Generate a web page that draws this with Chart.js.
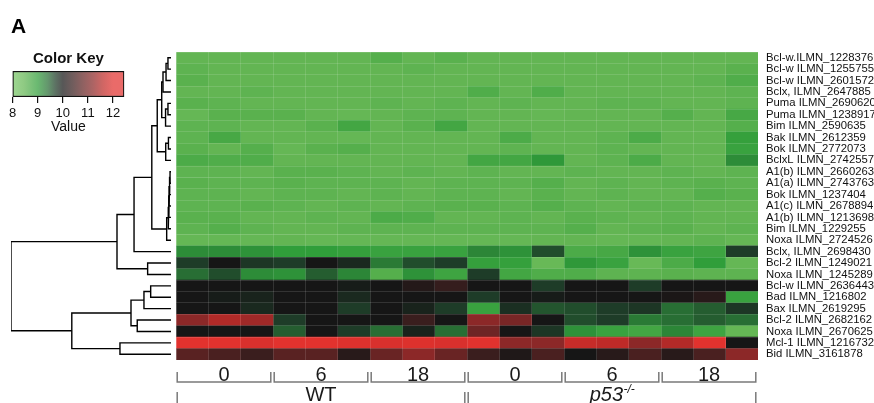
<!DOCTYPE html>
<html><head><meta charset="utf-8">
<script src="https://cdn.jsdelivr.net/npm/chart.js@4/dist/chart.umd.min.js"></script>
<style>
html,body{margin:0;padding:0;background:#fff;}
#wrap{position:relative;width:874px;height:403px;overflow:hidden;}
canvas{position:absolute;left:0;top:0;}
#panel{position:absolute;left:11px;top:15px;font:bold 21px/21px "Liberation Sans",Arial,sans-serif;color:#000;}
</style></head><body>
<div id="wrap">
<canvas id="heat" width="874" height="403"></canvas>
<canvas id="dendro" width="176" height="403"></canvas>
<canvas id="key" width="150" height="150"></canvas>
<div id="panel">A</div>
</div>
<script>
// ---------- DATA ----------
const rowLabels = [
 "Bcl-w.ILMN_1228376","Bcl-w ILMN_1255755","Bcl-w ILMN_2601572","Bclx, ILMN_2647885",
 "Puma ILMN_2690620","Puma ILMN_1238917","Bim ILMN_2590635","Bak ILMN_2612359",
 "Bok ILMN_2772073","BclxL ILMN_2742557","A1(b) ILMN_2660263","A1(a) ILMN_2743763",
 "Bok ILMN_1237404","A1(c) ILMN_2678894","A1(b) ILMN_1213698","Bim ILMN_1229255",
 "Noxa ILMN_2724526","Bclx, ILMN_2698430","Bcl-2 ILMN_1249021","Noxa ILMN_1245289",
 "Bcl-w ILMN_2636443","Bad ILMN_1216802","Bax ILMN_2619295","Bcl-2 ILMN_2682162",
 "Noxa ILMN_2670625","Mcl-1 ILMN_1216732","Bid ILMN_3161878"
];
const timeLabels = ["0","6","18"];
const repsPerGroup = 3;
const genotypes = ["WT","p53"];
const genotypeSup = ["","-/-"];
const genotypeItalic = [false,true];

// expression values, WT samples (0h x3, 6h x3, 18h x3)
const exprWT = [
 [8.45,8.45,8.45,8.45,8.45,8.45,8.6,8.45,8.55],
 [8.5,8.45,8.45,8.45,8.45,8.45,8.45,8.5,8.45],
 [8.55,8.45,8.45,8.45,8.45,8.45,8.45,8.45,8.45],
 [8.45,8.45,8.5,8.45,8.45,8.45,8.45,8.45,8.45],
 [8.55,8.5,8.45,8.45,8.45,8.45,8.5,8.45,8.5],
 [8.4,8.55,8.55,8.55,8.45,8.4,8.45,8.5,8.5],
 [8.5,8.5,8.45,8.45,8.55,8.8,8.45,8.55,8.8],
 [8.5,8.75,8.45,8.45,8.45,8.4,8.45,8.45,8.45],
 [8.55,8.45,8.6,8.4,8.55,8.6,8.45,8.45,8.45],
 [8.7,8.65,8.65,8.45,8.45,8.45,8.45,8.45,8.45],
 [8.5,8.5,8.45,8.55,8.55,8.5,8.45,8.5,8.45],
 [8.55,8.5,8.5,8.55,8.5,8.5,8.5,8.45,8.5],
 [8.5,8.5,8.45,8.5,8.5,8.45,8.5,8.45,8.5],
 [8.5,8.5,8.55,8.5,8.45,8.5,8.45,8.5,8.55],
 [8.55,8.55,8.45,8.45,8.5,8.45,8.7,8.65,8.45],
 [8.5,8.6,8.5,8.45,8.45,8.5,8.5,8.5,8.5],
 [8.4,8.4,8.4,8.45,8.4,8.4,8.4,8.4,8.4],
 [9.15,9.15,9.1,9.0,9.0,8.95,8.9,8.9,8.9],
 [9.7,10.0,9.75,9.7,10.0,9.85,9.3,9.6,9.7],
 [9.4,9.6,9.15,9.1,9.5,9.2,8.6,9.1,8.85],
 [10.0,10.0,10.0,10.0,10.0,9.95,10.0,10.15,10.35],
 [10.0,9.95,9.9,10.0,10.0,9.85,10.0,10.0,10.0],
 [10.0,10.0,9.85,10.0,10.0,9.7,10.0,9.9,9.7],
 [11.2,11.5,11.35,9.7,10.0,10.0,10.0,10.4,10.0],
 [10.0,10.0,10.0,9.5,10.0,9.7,9.4,9.9,9.4],
 [12.0,12.0,11.9,12.0,12.0,11.95,11.9,11.95,11.9],
 [10.7,10.55,10.4,10.7,10.7,10.2,10.85,11.2,10.85]
];
// expression values, p53-/- samples
const exprP53 = [
 [8.45,8.45,8.45,8.45,8.45,8.45,8.45,8.45,8.45],
 [8.45,8.45,8.45,8.45,8.45,8.45,8.45,8.45,8.55],
 [8.45,8.45,8.45,8.45,8.45,8.45,8.45,8.5,8.65],
 [8.65,8.45,8.65,8.45,8.45,8.45,8.45,8.45,8.5],
 [8.45,8.5,8.45,8.45,8.5,8.5,8.45,8.45,8.5],
 [8.45,8.45,8.4,8.45,8.45,8.45,8.6,8.45,8.75],
 [8.45,8.45,8.45,8.45,8.45,8.45,8.45,8.45,8.6],
 [8.45,8.7,8.45,8.45,8.5,8.7,8.45,8.45,8.95],
 [8.45,8.5,8.45,8.45,8.5,8.45,8.45,8.45,8.9],
 [8.8,8.8,9.05,8.45,8.5,8.7,8.45,8.45,9.15],
 [8.5,8.45,8.45,8.5,8.45,8.45,8.5,8.45,8.5],
 [8.5,8.5,8.6,8.45,8.5,8.45,8.5,8.55,8.5],
 [8.5,8.45,8.55,8.45,8.5,8.45,8.45,8.6,8.55],
 [8.55,8.5,8.6,8.5,8.45,8.5,8.5,8.45,8.45],
 [8.45,8.5,8.45,8.55,8.5,8.45,8.5,8.45,8.45],
 [8.5,8.5,8.5,8.6,8.45,8.5,8.55,8.45,8.5],
 [8.4,8.4,8.45,8.45,8.4,8.4,8.45,8.5,8.4],
 [9.2,9.1,9.6,8.7,8.75,9.1,8.9,8.85,9.7],
 [8.95,8.95,8.35,9.05,8.9,8.35,8.7,9.0,8.4],
 [9.7,8.8,8.65,8.65,8.5,8.5,8.55,8.5,8.5],
 [10.0,10.0,9.7,10.0,10.0,9.7,10.0,10.0,10.0],
 [9.7,10.0,9.95,10.0,10.0,10.0,10.05,10.2,8.9],
 [8.9,9.8,9.55,9.6,9.7,9.75,9.4,9.5,9.75],
 [11.2,11.0,10.0,9.6,9.7,9.3,9.4,9.5,9.4],
 [10.9,10.0,9.75,9.1,8.9,8.8,9.2,8.85,8.4],
 [12.0,11.2,11.2,11.7,11.6,11.2,11.5,12.0,10.0],
 [10.4,10.1,10.55,10.0,10.2,10.55,10.2,10.55,11.2]
];

// row dendrogram (hclust-style merges: negative = leaf row number, positive = earlier merge)
const mergePairs = [
 [-1,-2],[1,-3],[2,-4],[-5,-6],[4,-7],[3,5],[-8,-9],[7,-10],[6,8],
 [-11,-12],[10,-13],[11,-14],[12,-15],[13,-16],[14,-17],[9,15],[16,-18],
 [-19,-20],[17,18],[-21,-22],[20,-23],[-24,-25],[21,22],[-26,-27],[23,24],[19,25]
];
const mergeHeights = [
 0.19,0.31,0.5,0.19,0.34,0.58,0.16,0.33,0.86,
 0.06,0.09,0.12,0.14,0.17,0.27,1.2,2.31,
 1.46,3.375,1.27,1.69,2.11,2.5,3.19,6.2,10.0
];

// color key
const keyMin = 8, keyMax = 12.45;
const keyTicks = [8,9,10,11,12];

// ---------- STYLE ----------
const FONT = '"Liberation Sans", Arial, Helvetica, sans-serif';
Chart.defaults.font.family = FONT;
const colorStops = [
 [8.0,[120,200,102]],[8.45,[99,181,83]],[9.0,[48,158,58]],[9.4,[40,110,52]],
 [9.7,[30,60,40]],[10.0,[22,22,22]],[10.4,[58,30,30]],[10.8,[100,36,36]],
 [11.2,[140,40,40]],[11.6,[190,42,40]],[12.0,[226,50,46]]
];
function heatRGB(v){
  if (v <= colorStops[0][0]) return colorStops[0][1];
  for (let i=1;i<colorStops.length;i++){
    const [v1,c1] = colorStops[i];
    if (v <= v1){
      const [v0,c0] = colorStops[i-1];
      const t = (v-v0)/(v1-v0);
      return c0.map((c,k)=>Math.round(c+(c1[k]-c)*t));
    }
  }
  return colorStops[colorStops.length-1][1];
}
const rgb = c => `rgb(${c[0]},${c[1]},${c[2]})`;
function keyRGB(v){ const a=0.72; return heatRGB(v).map(c=>Math.round(c*a+255*(1-a))); }

function cellValue(row,col){
  return col < exprWT[0].length ? exprWT[row][col] : exprP53[row][col-exprWT[0].length];
}
const nCols = exprWT[0].length + exprP53[0].length;

// ---------- HEATMAP ----------
const heatSets = [];
for (let j=0;j<nCols;j++){
  heatSets.push({
    data: rowLabels.map(()=>[j, j+1]),
    backgroundColor: ctx => rgb(heatRGB(cellValue(ctx.dataIndex, j))),
    borderWidth: 0, grouped:false,
    barPercentage: 1, categoryPercentage: 1
  });
}
const groupPlugin = {
  id:'groups',
  afterDraw(chart){
    const {ctx, chartArea, scales:{x}} = chart;
    const b = chartArea.bottom;
    const nT = timeLabels.length;
    ctx.save();
    ctx.strokeStyle = '#7a7a7a'; ctx.lineWidth = 1.5;
    ctx.fillStyle = '#1a1a1a';
    ctx.textBaseline = 'alphabetic';
    genotypes.forEach((gt, gi) => {
      timeLabels.forEach((tl, ti) => {
        const c0 = (gi*nT+ti)*repsPerGroup, c1 = c0+repsPerGroup;
        const x0 = x.getPixelForValue(c0)+1.2, x1 = x.getPixelForValue(c1)-2.2;
        ctx.beginPath();
        ctx.moveTo(x0,b+12); ctx.lineTo(x0,b+22); ctx.lineTo(x1,b+22); ctx.lineTo(x1,b+12);
        ctx.stroke();
        ctx.font = '20px '+FONT; ctx.textAlign = 'center';
        ctx.fillText(tl,(x0+x1)/2,b+20.5);
      });
      const g0 = gi*nT*repsPerGroup, g1 = g0+nT*repsPerGroup;
      const gx0 = x.getPixelForValue(g0)+1.2, gx1 = x.getPixelForValue(g1)-2.2;
      ctx.beginPath();
      ctx.moveTo(gx0,b+32); ctx.lineTo(gx0,b+46);
      ctx.moveTo(gx1,b+32); ctx.lineTo(gx1,b+46);
      ctx.stroke();
      const mainFont = (genotypeItalic[gi]?'italic ':'')+'20px '+FONT;
      const supFont = (genotypeItalic[gi]?'italic ':'')+'12px '+FONT;
      ctx.font = mainFont; const w1 = ctx.measureText(gt).width;
      ctx.font = supFont; const w2 = genotypeSup[gi] ? ctx.measureText(genotypeSup[gi]).width : 0;
      const sx = (gx0+gx1)/2 - (w1+w2)/2;
      ctx.textAlign = 'left';
      ctx.font = mainFont; ctx.fillText(gt, sx, b+41);
      if (genotypeSup[gi]){ ctx.font = supFont; ctx.fillText(genotypeSup[gi], sx+w1+0.5, b+33); }
    });
    ctx.restore();
  }
};
new Chart(document.getElementById('heat'), {
  type:'bar',
  data:{labels:rowLabels, datasets:heatSets},
  options:{
    responsive:false, animation:false, indexAxis:'y',
    layout:{padding:{left:176, top:52, right:0, bottom:0}},
    plugins:{legend:{display:false}, tooltip:{enabled:false}},
    scales:{
      x:{type:'linear', min:0, max:nCols, position:'bottom',
         ticks:{display:false, stepSize:1},
         grid:{color:'rgba(255,255,255,0.13)', drawTicks:false, z:1, lineWidth:1},
         border:{display:false},
         afterFit(s){ s.height = 43; }},
      y:{position:'right',
         ticks:{padding:8, font:{size:11.3, family:FONT}, color:'#111', autoSkip:false},
         grid:{color:'rgba(255,255,255,0.13)', drawTicks:false, z:1, offset:true},
         border:{display:false},
         afterFit(s){ s.width = 116; }}
    }
  },
  plugins:[groupPlugin]
});

// ---------- DENDROGRAM ----------
const nodeY = [];
const dendroSets = [];
function childPos(c){ return c < 0 ? {y:-c-1, h:0} : {y:nodeY[c-1], h:mergeHeights[c-1]}; }
mergePairs.forEach(([a,b],k)=>{
  const A = childPos(a), B = childPos(b), h = mergeHeights[k];
  nodeY[k] = (A.y+B.y)/2;
  dendroSets.push({
    data:[{x:A.h,y:A.y},{x:h,y:A.y},{x:h,y:B.y},{x:B.h,y:B.y}],
    showLine:true, borderColor:'#000', borderWidth:1.4, pointRadius:0, tension:0, fill:false
  });
});
new Chart(document.getElementById('dendro'), {
  type:'scatter',
  data:{datasets:dendroSets},
  options:{
    responsive:false, animation:false,
    layout:{padding:{left:11, right:5, top:52, bottom:43}},
    plugins:{legend:{display:false}, tooltip:{enabled:false}},
    scales:{
      x:{type:'linear', min:0, max:10, reverse:true, display:false},
      y:{type:'linear', min:-0.5, max:rowLabels.length-0.5, reverse:true, display:false}
    }
  }
});

// ---------- COLOR KEY ----------
new Chart(document.getElementById('key'), {
  type:'bar',
  data:{labels:[''], datasets:[{
    data:[[keyMin,keyMax]],
    backgroundColor: ctx => {
      const ch = ctx.chart; const area = ch.chartArea;
      if (!area) return '#888';
      const xs = ch.scales.x;
      const g = ch.ctx.createLinearGradient(xs.getPixelForValue(keyMin),0,xs.getPixelForValue(keyMax),0);
      colorStops.forEach(([v])=>{
        const t = (v-keyMin)/(keyMax-keyMin);
        if (t>=0 && t<=1) g.addColorStop(t, rgb(keyRGB(v)));
      });
      g.addColorStop(1, rgb(keyRGB(keyMax)));
      return g;
    },
    borderColor:'#111', borderWidth:1.5, borderSkipped:false,
    barPercentage:1, categoryPercentage:1
  }]},
  options:{
    responsive:false, animation:false, indexAxis:'y',
    layout:{padding:{left:12.5, right:150-124.3, top:50, bottom:150-97-38.4}},
    plugins:{
      legend:{display:false}, tooltip:{enabled:false},
      title:{display:true, text:'Color Key', color:'#111', font:{size:15, weight:'bold', family:FONT}, padding:{top:0,bottom:3}}
    },
    scales:{
      x:{type:'linear', min:keyMin, max:keyMax, position:'bottom',
         afterBuildTicks(s){ s.ticks = keyTicks.map(v=>({value:v})); },
         ticks:{font:{size:13, family:FONT}, color:'#111', padding:3, maxRotation:0},
         grid:{drawOnChartArea:false, drawTicks:true, tickLength:6, color:'#111', lineWidth:1.2},
         border:{display:false},
         title:{display:true, text:'Value', color:'#111', font:{size:14, family:FONT}, padding:0},
         afterFit(s){ s.height = 38.4; }},
      y:{display:false}
    }
  }
});
</script>
</body></html>
